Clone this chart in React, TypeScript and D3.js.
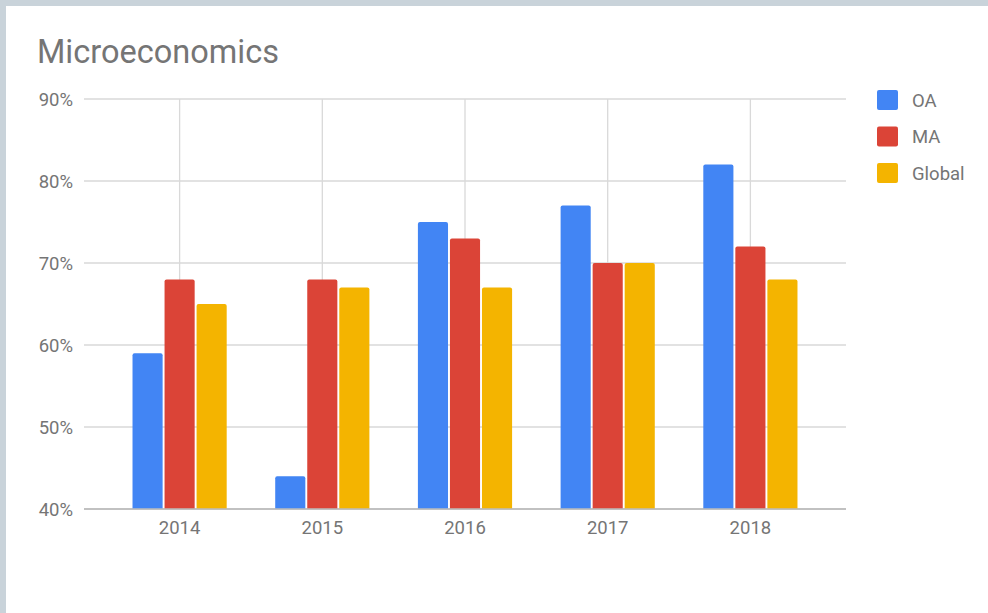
import React from 'react';
import * as d3 from 'd3';

const years = ['2014', '2015', '2016', '2017', '2018'];
const seriesNames = ['OA', 'MA', 'Global'];
const oaValues = [59, 44, 75, 77, 82];
const maValues = [68, 68, 73, 70, 72];
const globalValues = [65, 67, 67, 70, 68];
const yTicks = [40, 50, 60, 70, 80, 90];

const colors = ['#4285f4', '#db4437', '#f4b400'];
const seriesValues = [oaValues, maValues, globalValues];

const W = 988;
const H = 613;
const left = 84;
const right = 846;
const top = 99;
const bottom = 509;
const font = 'Roboto, "Noto Sans", sans-serif';
const textColor = '#757575';

const App: React.FC = () => {
  const x = d3.scaleBand<string>().domain(years).range([left, right]).padding(0.34);
  const xInner = d3
    .scaleBand<string>()
    .domain(seriesNames)
    .range([0, x.bandwidth()])
    .paddingInner(0.06);
  const y = d3.scaleLinear().domain([40, 90]).range([bottom, top]);

  // bar with rounded top corners
  const barPath = (x0: number, w: number, yTop: number, r: number) => {
    const yb = bottom;
    return `M${x0},${yb}V${yTop + r}Q${x0},${yTop} ${x0 + r},${yTop}H${x0 + w - r}Q${x0 + w},${yTop} ${x0 + w},${yTop + r}V${yb}Z`;
  };

  return (
    <div style={{ position: 'fixed', left: 0, top: 0, width: W, height: H }}>
      <svg width={W} height={H} style={{ display: 'block' }}>
        <rect x={0} y={0} width={W} height={H} fill="#c9d3da" />
        <rect x={6} y={6} width={W - 6} height={H - 6} fill="#ffffff" />
        <text x={37} y={63} fontFamily={font} fontSize={32.5} fill={textColor}>
          Microeconomics
        </text>

        {yTicks.map((t) => (
          <g key={t}>
            <line
              x1={left}
              x2={right}
              y1={y(t)}
              y2={y(t)}
              stroke={t === 40 ? '#bdbdbd' : '#d9d9d9'}
              strokeWidth={1.3}
            />
            <text
              x={73}
              y={y(t) + 6.5}
              textAnchor="end"
              fontFamily={font}
              fontSize={18.5}
              fill={textColor}
            >
              {t}%
            </text>
          </g>
        ))}

        {years.map((yr) => {
          const cx = (x(yr) as number) + x.bandwidth() / 2;
          return (
            <g key={yr}>
              <line x1={cx} x2={cx} y1={top} y2={bottom} stroke="#d9d9d9" strokeWidth={1.3} />
              <text
                x={cx}
                y={534}
                textAnchor="middle"
                fontFamily={font}
                fontSize={18.5}
                fill={textColor}
              >
                {yr}
              </text>
            </g>
          );
        })}

        {years.map((yr, i) => (
          <g key={yr}>
            {seriesNames.map((s, j) => {
              const x0 = (x(yr) as number) + (xInner(s) as number);
              return (
                <path
                  key={s}
                  d={barPath(x0, xInner.bandwidth(), y(seriesValues[j][i]), 2)}
                  fill={colors[j]}
                />
              );
            })}
          </g>
        ))}

        <line x1={left} x2={right} y1={bottom} y2={bottom} stroke="#bdbdbd" strokeWidth={1.3} />

        {seriesNames.map((s, j) => (
          <g key={s} transform={`translate(877, ${100 + j * 36.5})`}>
            <rect x={0} y={-10} width={21} height={20} rx={2} fill={colors[j]} />
            <text x={35} y={6.5} fontFamily={font} fontSize={18.5} fill={textColor}>
              {s}
            </text>
          </g>
        ))}
      </svg>
    </div>
  );
};

export default App;
